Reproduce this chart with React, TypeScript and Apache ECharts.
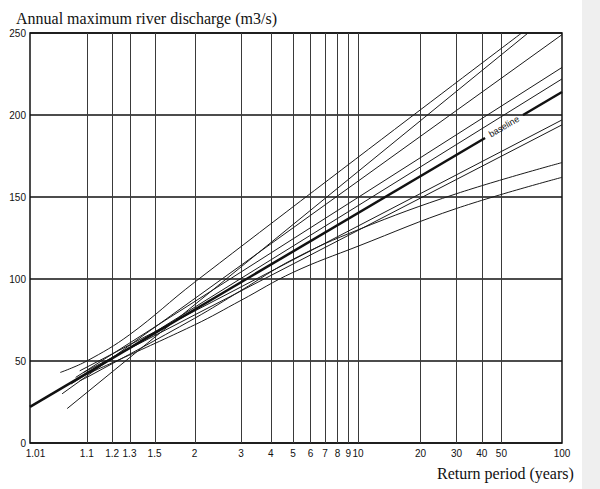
import React, { useEffect, useRef } from "react";
import * as echarts from "echarts";

// Return-period ticks on Gumbel probability paper
const returnPeriodTicks = [1.01, 1.1, 1.2, 1.3, 1.5, 2, 3, 4, 5, 6, 7, 8, 9, 10, 20, 30, 40, 50, 100];
const tickLabels = ["1.01", "1.1", "1.2", "1.3", "1.5", "2", "3", "4", "5", "6", "7", "8", "9", "10", "20", "30", "40", "50", "100"];
const dischargeTicks = [0, 50, 100, 150, 200, 250];

// Curves: [return period (years), discharge (m3/s)]
const baselineLow = [[1.01, 22], [41.5, 186]];
const baselineHigh = [[64, 200], [100, 214]];
const curveA = [[1.04, 43], [1.1, 50], [1.3, 66], [2, 98], [63, 250]];
const curveB = [[1.052, 21], [67.8, 250]];
const curveC = [[1.043, 30], [100, 249]];
const curveD = [[1.07, 40], [100, 229]];
const curveE = [[1.06, 36], [100, 222]];
const curveG = [[1.08, 44], [100, 197]];
const curveH = [[1.09, 43], [100, 194]];
const curveI = [[1.08, 38], [1.1, 40], [2, 76], [3, 93], [5, 112], [10, 130], [30, 152], [100, 171]];
const curveJ = [[1.1, 42], [2, 72], [3, 87], [5, 104], [10, 120], [30, 143], [100, 162]];
const baselineLabelAt = [51.5, 193];

const gumbel = (T: number) => -Math.log(-Math.log(1 - 1 / T));
const toXY = (pts: number[][]) => pts.map(([t, q]) => [gumbel(t), q]);

export default function App() {
  const ref = useRef<HTMLDivElement>(null);
  useEffect(() => {
    if (!ref.current) return;
    const chart = echarts.init(ref.current, null, { renderer: "svg" });
    const tickV = returnPeriodTicks.map(gumbel);
    const ink = "#1a1a1a";
    const labelFont = { fontFamily: "Liberation Sans", fontSize: 10, color: "#111" };
    const thin = (name: string, pts: number[][], smooth = false) => ({
      name,
      type: "line",
      data: toXY(pts),
      showSymbol: false,
      symbol: "none",
      smooth: smooth ? 0.4 : false,
      lineStyle: { color: ink, width: 1 },
      silent: true,
      z: 3,
    });
    chart.setOption({
      animation: false,
      backgroundColor: "#ffffff",
      title: [
        {
          text: "Annual maximum river discharge (m3/s)",
          left: 11,
          top: 5,
          textStyle: { fontFamily: "Liberation Serif", fontSize: 16, fontWeight: "normal", color: "#111" },
        },
        {
          text: "Return period (years)",
          left: 432,
          top: 460,
          textStyle: { fontFamily: "Liberation Serif", fontSize: 16, fontWeight: "normal", color: "#111" },
        },
      ],
      graphic: [
        { type: "rect", left: 582, top: 0, shape: { width: 18, height: 489 }, style: { fill: "#efefef" }, silent: true },
      ],
      grid: { left: 30, right: 38, top: 33, bottom: 46, show: true, borderColor: "#111", borderWidth: 1.5, backgroundColor: "transparent" },
      xAxis: {
        type: "value",
        min: gumbel(returnPeriodTicks[0]),
        max: gumbel(returnPeriodTicks[returnPeriodTicks.length - 1]),
        axisLine: { show: false },
        axisTick: { show: false },
        splitLine: { show: false },
        axisLabel: {
          customValues: tickV,
          formatter: (val: number) => {
            const i = tickV.findIndex((v) => Math.abs(v - val) < 1e-6);
            if (i < 0) return "";
            return i === 0 ? "{first|" + tickLabels[i] + "}" : tickLabels[i];
          },
          rich: { first: { ...labelFont, padding: [0, 0, 0, 11] } },
          ...labelFont,
          margin: 5,
          showMinLabel: true,
          showMaxLabel: true,
          hideOverlap: false,
        },
      },
      yAxis: {
        type: "value",
        min: dischargeTicks[0],
        max: dischargeTicks[dischargeTicks.length - 1],
        interval: 50,
        axisLine: { show: false },
        axisTick: { show: false },
        splitLine: { show: true, lineStyle: { color: "#111", width: 1.5 } },
        axisLabel: { ...labelFont, margin: 4 },
      },
      series: [
        {
          name: "baseline",
          type: "line",
          data: toXY(baselineLow),
          showSymbol: false,
          symbol: "none",
          lineStyle: { color: "#111", width: 2.5 },
          silent: true,
          z: 4,
          markLine: {
            silent: true,
            symbol: ["none", "none"],
            label: { show: false },
            lineStyle: { color: "#3a3a3a", width: 1, type: "solid" },
            data: tickV.slice(1, tickV.length - 1).map((v) => ({ xAxis: v })),
            z: 1,
          },
        },
        {
          name: "baseline2",
          type: "line",
          data: toXY(baselineHigh),
          showSymbol: false,
          symbol: "none",
          lineStyle: { color: "#111", width: 2.5 },
          silent: true,
          z: 4,
          markPoint: {
            silent: true,
            symbol: "circle",
            symbolSize: 0,
            data: [{ coord: [gumbel(baselineLabelAt[0]), baselineLabelAt[1]] }],
            label: {
              show: true,
              formatter: "baseline",
              rotate: 30,
              fontFamily: "Liberation Sans",
              fontSize: 9,
              color: "#111",
              position: "inside",
            },
          },
        },
        thin("A", curveA, true),
        thin("B", curveB),
        thin("C", curveC),
        thin("D", curveD),
        thin("E", curveE),
        thin("G", curveG),
        thin("H", curveH),
        thin("I", curveI, true),
        thin("J", curveJ, true),
      ],
    });
    return () => chart.dispose();
  }, []);
  return <div ref={ref} style={{ position: "fixed", left: 0, top: 0, width: 600, height: 489 }} />;
}
